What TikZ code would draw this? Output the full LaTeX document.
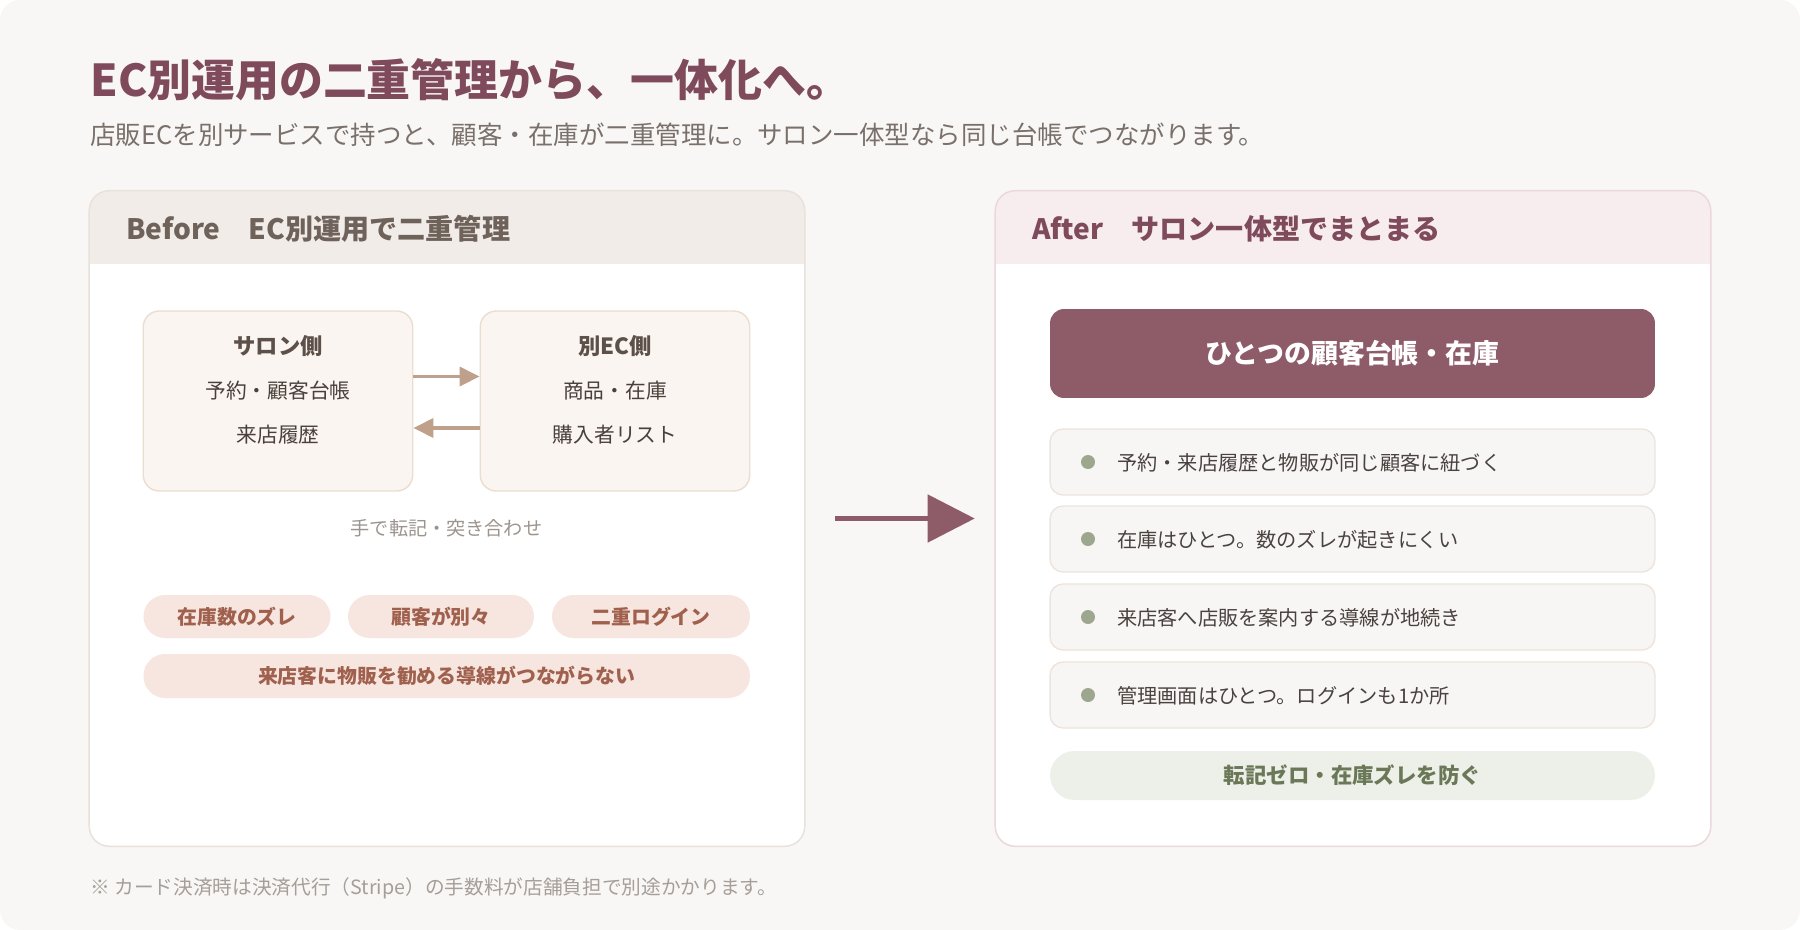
\documentclass[tikz,border=0pt]{standalone}
\usepackage{fontspec}
\setmainfont{Noto Sans CJK JP}
\usetikzlibrary{arrows.meta,calc,positioning}
\definecolor{pagebg}{HTML}{F9F7F5}
\definecolor{plumtxt}{HTML}{7E4A5C}
\definecolor{subgray}{HTML}{7A706B}
\definecolor{rimL}{HTML}{E9E1DB}
\definecolor{rimR}{HTML}{EBD8DC}
\definecolor{hdrbgL}{HTML}{F1ECE8}
\definecolor{hdrbgR}{HTML}{F7EDEE}
\definecolor{hdrtxtL}{HTML}{6E625B}
\definecolor{boxfill}{HTML}{FAF5F1}
\definecolor{boxline}{HTML}{EBDDD0}
\definecolor{boxttl}{HTML}{5C5049}
\definecolor{boxtxt}{HTML}{4A403B}
\definecolor{arrtan}{HTML}{BFA08A}
\definecolor{notegray}{HTML}{9D948E}
\definecolor{pillfill}{HTML}{F7E6DF}
\definecolor{pilltxt}{HTML}{A0604E}
\definecolor{plum}{HTML}{8E5B68}
\definecolor{itemfill}{HTML}{F8F6F4}
\definecolor{itemline}{HTML}{EDE4DE}
\definecolor{itemtxt}{HTML}{4A4240}
\definecolor{sage}{HTML}{9DA78E}
\definecolor{gainfill}{HTML}{EDF0E8}
\definecolor{gaintxt}{HTML}{6A7858}
\definecolor{footgray}{HTML}{A69E98}
\tikzset{
  ttl/.style={anchor=west,inner sep=0pt,font=\bfseries\fontsize{25}{30}\selectfont,text=plumtxt},
  sub/.style={anchor=west,inner sep=0pt,font=\fontsize{14.5}{17}\selectfont,text=subgray},
  card/.style={fill=white,rounded corners=0.4cm,inner sep=0pt,minimum width=14.3cm,minimum height=13.1cm},
  rim/.style={line width=0.85pt,rounded corners=0.4cm},
  hdr/.style={anchor=west,inner sep=0pt,font=\bfseries\fontsize{16}{19}\selectfont},
  side/.style={draw=boxline,fill=boxfill,line width=0.8pt,rounded corners=0.32cm,
    minimum width=5.39cm,minimum height=3.6cm,inner sep=0pt},
  sidettl/.style={inner sep=0pt,font=\bfseries\fontsize{12.7}{15}\selectfont,text=boxttl},
  sideln/.style={inner sep=0pt,font=\fontsize{11.8}{14}\selectfont,text=boxtxt},
  flow/.style={line width=2pt,arrtan,-{Triangle[length=0.4cm,width=0.38cm]}},
  remark/.style={inner sep=0pt,font=\fontsize{10.9}{13}\selectfont,text=notegray},
  pill/.style={fill=pillfill,rounded corners=0.43cm,minimum height=0.86cm,inner sep=0pt,
    font=\bfseries\fontsize{11.3}{13}\selectfont,text=pilltxt},
  ledger/.style={fill=plum,rounded corners=0.28cm,minimum width=12.1cm,minimum height=1.78cm,
    inner sep=0pt,font=\bfseries\fontsize{15.3}{18}\selectfont,text=white},
  entry/.style={draw=itemline,fill=itemfill,line width=0.8pt,rounded corners=0.26cm,
    minimum width=12.1cm,minimum height=1.32cm,inner sep=0pt},
  blt/.style={circle,fill=sage,inner sep=0pt,minimum size=0.28cm},
  etxt/.style={anchor=west,inner sep=0pt,font=\fontsize{11.5}{14}\selectfont,text=itemtxt},
  gain/.style={fill=gainfill,rounded corners=0.49cm,minimum width=12.1cm,minimum height=0.98cm,
    inner sep=0pt,font=\bfseries\fontsize{12.2}{14}\selectfont,text=gaintxt},
  bigflow/.style={line width=2.8pt,plum,-{Triangle[length=0.94cm,width=0.94cm]}},
  foot/.style={anchor=west,inner sep=0pt,font=\fontsize{11.2}{13}\selectfont,text=footgray},
}
\begin{document}
\begin{tikzpicture}[x=0.02cm,y=-0.02cm]
  \useasboundingbox (0,0) rectangle (1800,930);
  \fill[pagebg,rounded corners=0.4cm] (0,0) rectangle (1800,930);
  % ---------- heading ----------
  \node[ttl] (title) at (90,80) {EC別運用の二重管理から、一体化へ。};
  \node[sub] (subtitle) at (90,135) {店販ECを別サービスで持つと、顧客・在庫が二重管理に。サロン一体型なら同じ台帳でつながります。};
  % ---------- left card: before ----------
  \node[card] (before) at (447,518.5) {};
  \begin{scope}
    \clip[rounded corners=0.4cm] (before.north west) rectangle (before.south east);
    \fill[hdrbgL] (before.north west) rectangle ([yshift=-1.46cm]before.north east);
  \end{scope}
  \draw[rim,rimL] (before.north west) rectangle (before.south east);
  \node[hdr,text=hdrtxtL] (beforehd) at (126,229) {Before　EC別運用で二重管理};
  % the two separate ledgers
  \node[side] (salon) at (278,401) {};
  \node[sidettl] at ($(salon.north)+(0,36)$) {サロン側};
  \node[sideln] at ($(salon.north)+(0,80.5)$) {予約・顧客台帳};
  \node[sideln] at ($(salon.north)+(0,124.5)$) {来店履歴};
  \node[side] (ec) at (615,401) {};
  \node[sidettl] at ($(ec.north)+(0,36)$) {別EC側};
  \node[sideln] at ($(ec.north)+(0,80.5)$) {商品・在庫};
  \node[sideln] at ($(ec.north)+(0,124.5)$) {購入者リスト};
  \draw[flow] ([yshift=0.49cm]salon.east) -- ([yshift=0.49cm]ec.west);
  \draw[flow] ([yshift=-0.54cm]ec.west) -- ([yshift=-0.54cm]salon.east);
  \node[remark] (manual) at (446.5,528) {手で転記・突き合わせ};
  % problems
  \node[pill,minimum width=3.74cm] (p1) at (237,616.5) {在庫数のズレ};
  \node[pill,minimum width=3.72cm] (p2) at (441,616.5) {顧客が別々};
  \node[pill,minimum width=3.96cm] (p3) at (651,616.5) {二重ログイン};
  \node[pill,minimum width=12.13cm,minimum height=0.88cm] (p4) at (446.75,676) {来店客に物販を勧める導線がつながらない};
  % ---------- right card: after ----------
  \node[card] (after) at (1353,518.5) {};
  \begin{scope}
    \clip[rounded corners=0.4cm] (after.north west) rectangle (after.south east);
    \fill[hdrbgR] (after.north west) rectangle ([yshift=-1.46cm]after.north east);
  \end{scope}
  \draw[rim,rimR] (after.north west) rectangle (after.south east);
  \node[hdr,text=plumtxt] (afterhd) at (1032,229) {After　サロン一体型でまとまる};
  \node[ledger] (one) at (1352.5,353.5) {ひとつの顧客台帳・在庫};
  \node[entry] (e1) at (1352.5,462) {};
  \node[blt] at (1088,462) {};
  \node[etxt] at (1117,463) {予約・来店履歴と物販が同じ顧客に紐づく};
  \node[entry] (e2) at (1352.5,539) {};
  \node[blt] at (1088,539) {};
  \node[etxt] at (1117,540) {在庫はひとつ。数のズレが起きにくい};
  \node[entry] (e3) at (1352.5,617) {};
  \node[blt] at (1088,617) {};
  \node[etxt] at (1117,618) {来店客へ店販を案内する導線が地続き};
  \node[entry] (e4) at (1352.5,695) {};
  \node[blt] at (1088,695) {};
  \node[etxt] at (1117,696) {管理画面はひとつ。ログインも1か所};
  \node[gain] (zero) at (1352.5,775.5) {転記ゼロ・在庫ズレを防ぐ};
  % ---------- transition ----------
  \draw[bigflow,shorten <=0.61cm,shorten >=0.41cm] (before.east) -- (after.west);
  % ---------- footnote ----------
  \node[foot] (fn) at (90,888) {※ カード決済時は決済代行（Stripe）の手数料が店舗負担で別途かかります。};
\end{tikzpicture}
\end{document}
